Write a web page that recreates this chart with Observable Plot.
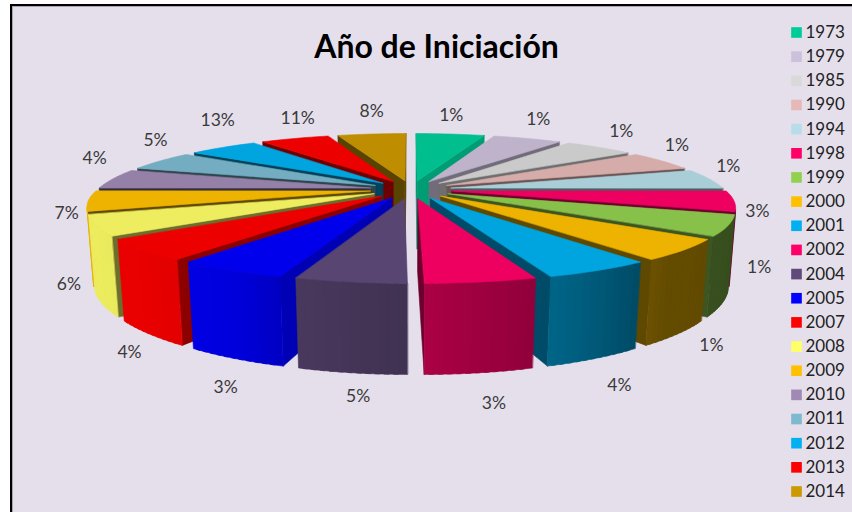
<!DOCTYPE html>
<html><head><meta charset="utf-8">
<script src="https://cdn.jsdelivr.net/npm/d3@7"></script>
<script src="https://cdn.jsdelivr.net/npm/@observablehq/plot@0.6"></script>
<style>
html,body{margin:0;padding:0;background:#fff;width:852px;height:512px;overflow:hidden}
#panel{position:absolute;left:10px;top:4px;width:842px;height:508px;box-sizing:border-box;background:#E5DFEC;border-left:2px solid #000;border-top:2px solid #000;box-shadow:inset 1px 1px 0 #a9a6ad}
#chart{position:absolute;left:0;top:0}
svg{background:transparent!important}
</style></head><body>
<div id="panel"></div><div id="chart"></div>
<script>
// ---- data ----
const years = ["1973","1979","1985","1990","1994","1998","1999","2000","2001","2002","2004","2005","2007","2008","2009","2010","2011","2012","2013","2014"];
const percentLabels = ["1%","1%","1%","1%","1%","3%","1%","1%","4%","3%","5%","3%","4%","6%","7%","4%","5%","13%","11%","8%"];
// the drawn slices are of equal size, whatever their labels say
const sliceWeights = [1,1,1,1,1,1,1,1,1,1,1,1,1,1,1,1,1,1,1,1];
const legendColors = ["#00CC99","#CCC1DA","#D9D9D9","#E6B9B8","#B7DEE8","#FF0066","#92D050","#FFC000","#00B0F0","#FF0066","#604A7B","#0000FF","#FF0000","#FFFF66","#FFC000","#A08AB4","#7DB9CF","#00B0F0","#FF0000","#CC9900"];
const title = "Año de Iniciación";

// ---- label nudges (pixels from the slice rim) ----
const labelDx = [1,11,22,15,19,23.5,32,36,28.7,19,11,-5.6,-17,-26,-21.5,-18,-4.6,-5,3,0];
const labelDy = [-18.5,-19,-16,-16,-12.5,10.6,42,11.6,27,31,24,29,18.6,59,12.6,-20.5,-20.4,-27,-20,-22.5];

// ---- perspective camera of the 3-D pie ----
const cam = {cx:410.5, cy:189, A:314, B:70.2, k:0.2533, h:0.0187, vx:410, vy:4013, skew:5};
const radius = 0.87, explode = 0.13;
function project(X, Y, low, skewed = true) {
  const w = 1 - cam.k * Y;
  const x = cam.cx + cam.A * X / w + (skewed && Y > 0 ? cam.skew * Y * Y : 0), y = cam.cy + cam.B * Y / w;
  if (!low) return [x, y];
  const t = cam.h / (w + cam.h);
  return [x + (cam.vx - x) * t, y + (cam.vy - y) * t];
}
const shadeOuter = d3.scaleLinear([0,90,140,160,180,198,207,225,250,270,360],[.4,.4,.42,.6,.72,.82,.93,.98,1,1,1]);
const shadeCut = d3.scaleLinear([0,18,36,54,72,90,108,126,144,162,180,198,216,234,252,270,288,306,324,342,360],
  [.8,.82,.6,.55,.5,.45,.46,.44,.4,.46,.46,.76,.59,.46,.4,.35,.4,.4,.46,.47,.47]);
const mult = (c, f) => { const r = d3.rgb(c); return d3.rgb(r.r*f, r.g*f, r.b*f).formatHex(); };
const deg = a => a * 180 / Math.PI;

const arcs = d3.pie().sort(null)(sliceWeights);
const slices = arcs.map((a, i) => ({i, a0:a.startAngle, a1:a.endAngle, mid:(a.startAngle+a.endAngle)/2}));
const faces = [];
let faceId = 0;
function addFace(pts, color) {
  const id = faceId++;
  pts.forEach(p => faces.push({x:p[0], y:p[1], face:id, color}));
}
function addWall(p, q, color) { // p -> q on the plane, clockwise round the slice
  const quad = [project(p[0],p[1],false), project(q[0],q[1],false), project(q[0],q[1],true), project(p[0],p[1],true)];
  if (d3.polygonArea(quad) > 0) addFace(quad, color); // faces the viewer
}
[...slices].sort((s, t) => Math.cos(t.mid) - Math.cos(s.mid)).forEach(s => {
  const base = mult(legendColors[s.i], .93);
  const ox = explode * Math.sin(s.mid), oy = -explode * Math.cos(s.mid);
  const apex = [ox, oy];
  const rim = a => [ox + radius * Math.sin(a), oy - radius * Math.cos(a)];
  const steps = d3.range(0, 13).map(j => s.a0 + (s.a1 - s.a0) * j / 12);
  addWall(apex, rim(s.a0), mult(base, shadeCut(deg(s.a0))));
  addWall(rim(s.a1), apex, mult(base, shadeCut(deg(s.a1))));
  // each wall strip overlaps the next one so no seam shows between them
  d3.pairs(steps).forEach(([a, b]) => addWall(rim(a), rim(Math.min(b + (b - a) * 0.5, s.a1)), mult(base, shadeOuter(deg((a+b)/2)))));
  addFace([apex, ...steps.map(rim)].map(p => project(p[0], p[1], false)), base);
});

const labelRows = slices.map(s => {
  const drop = Math.cos(s.mid) < -0.6;
  const [x, y] = project(Math.sin(s.mid), -Math.cos(s.mid), drop, false);
  return {x: x + labelDx[s.i], y: y + labelDy[s.i], text: percentLabels[s.i]};
});
const legendRows = years.map((year, i) => ({year, color: legendColors[i], rank: i}));
const legendY = d3.scaleLinear([0, years.length - 1], [32, 491]);

const plot = Plot.plot({
  width: 852, height: 512,
  marginTop: 0, marginRight: 0, marginBottom: 0, marginLeft: 0,
  x: {domain: [0, 852], range: [0, 852], axis: null},
  y: {domain: [0, 512], range: [0, 512], axis: null},
  style: {background: "transparent", fontFamily: "Lato, sans-serif"},
  marks: [
    Plot.line(faces, {x: "x", y: "y", z: "face", fill: "color", stroke: "color", strokeWidth: 0.6, curve: "linear-closed"}),
    Plot.text(labelRows, {x: "x", y: "y", text: "text", fontSize: 17.5, fill: "#3a3a3a", textAnchor: "middle"}),
    Plot.text([title], {x: [436], y: [47], text: d => d, fontSize: 32, fontWeight: 700, fill: "#000", textAnchor: "middle"}),
    Plot.dot(legendRows, {x: () => 796, y: d => legendY(d.rank), symbol: "square", r: 6, fill: "color", stroke: "none"}),
    Plot.text(legendRows, {x: () => 805, y: d => legendY(d.rank), text: "year", fontSize: 17, fill: "#222", textAnchor: "start"})
  ]
});
document.getElementById("chart").appendChild(plot);
</script>
</body></html>
